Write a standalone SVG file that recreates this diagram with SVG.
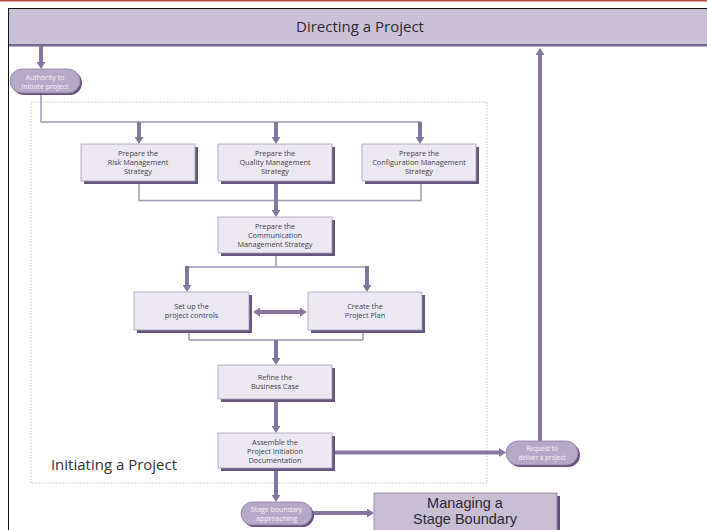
<svg xmlns="http://www.w3.org/2000/svg" width="707" height="530" viewBox="0 0 707 530">
<style>
text{font-family:"Open Sans","DejaVu Sans",sans-serif;text-anchor:middle}
.bt{font-size:7.3px;fill:#45414b}
.pt{font-size:7px;fill:#f6f3f9}
.box{fill:#ece8f1;stroke:#a99cba;stroke-width:0.8}
.sh{fill:#66567e}
.pill{fill:#b6a9c8;stroke:#8e7fa6;stroke-width:0.8}
.thick{stroke:#8576a0;stroke-width:4;fill:none}
.thin{stroke:#a396b5;stroke-width:1.5;fill:none}
</style>
<defs>
<marker id="ah" viewBox="0 0 7 9" markerWidth="7" markerHeight="9" refX="2" refY="4.5" markerUnits="userSpaceOnUse" orient="auto-start-reverse">
<path d="M0,0 L7,4.5 L0,9 z" fill="#8576a0"/>
</marker>
</defs>
<rect x="0" y="0" width="707" height="530" fill="#ffffff"/>
<rect x="0" y="0" width="707" height="1.5" fill="#b8473f"/>
<line x1="8" y1="8.5" x2="707" y2="8.5" stroke="#111" stroke-width="1"/>
<line x1="8.5" y1="8" x2="8.5" y2="530" stroke="#111" stroke-width="1"/>

<g id="directing">
<rect x="9" y="9" width="698" height="36" fill="#cbc1d6"/>
<rect x="9" y="44" width="698" height="2.5" fill="#76678f"/>
<text x="360" y="32" style="font-size:15px;fill:#2e2a33">Directing a Project</text>
</g>

<g id="initiating-frame">
<rect x="31" y="102" width="456" height="381" fill="none" stroke="#c3c3c3" stroke-width="1" stroke-dasharray="1.5 1.5"/>
<text x="114" y="470" style="font-size:15px;fill:#333">Initiating a Project</text>
</g>

<g id="connectors">
<line class="thick" x1="41" y1="46" x2="41" y2="64" marker-end="url(#ah)"/>
<polyline class="thin" points="41,93 41,122 421,122"/>
<line class="thick" x1="139" y1="122" x2="139" y2="139" marker-end="url(#ah)"/>
<line class="thick" x1="276" y1="122" x2="276" y2="139" marker-end="url(#ah)"/>
<line class="thick" x1="420" y1="122" x2="420" y2="139" marker-end="url(#ah)"/>
<polyline class="thin" points="139,184 139,200.5 421,200.5 421,184"/>
<line class="thick" x1="276" y1="184" x2="276" y2="212" marker-end="url(#ah)"/>
<polyline class="thin" points="276,256 276,267"/>
<line class="thin" x1="187" y1="267" x2="367" y2="267"/>
<line class="thick" x1="187" y1="266" x2="187" y2="287" marker-end="url(#ah)"/>
<line class="thick" x1="367" y1="266" x2="367" y2="287" marker-end="url(#ah)"/>
<line class="thick" x1="258" y1="312" x2="302" y2="312" marker-start="url(#ah)" marker-end="url(#ah)"/>
<polyline class="thin" points="189,333 189,340 363,340 363,333"/>
<line class="thick" x1="276" y1="340" x2="276" y2="360" marker-end="url(#ah)"/>
<line class="thick" x1="276" y1="402" x2="276" y2="428" marker-end="url(#ah)"/>
<line class="thick" x1="334" y1="452.5" x2="501" y2="452.5" marker-end="url(#ah)"/>
<line class="thick" x1="540" y1="441" x2="540" y2="53" marker-end="url(#ah)"/>
<line class="thick" x1="276" y1="471" x2="276" y2="497" marker-end="url(#ah)"/>
<line class="thick" x1="312" y1="513" x2="369" y2="513" marker-end="url(#ah)"/>
</g>

<g id="authority">
<rect class="sh" x="12" y="71" width="70" height="24" rx="12"/>
<rect class="pill" x="10" y="69" width="70" height="24" rx="12"/>
<text class="pt" x="45" y="79.5">Authority to</text>
<text class="pt" x="45" y="88.5">initiate project</text>
</g>

<g id="risk">
<rect class="sh" x="84" y="147" width="114" height="37"/>
<rect class="box" x="81" y="144" width="114" height="37"/>
<text class="bt" x="138" y="156">Prepare the</text>
<text class="bt" x="138" y="165.2">Risk Management</text>
<text class="bt" x="138" y="174.4">Strategy</text>
</g>

<g id="quality">
<rect class="sh" x="221" y="147" width="114" height="37"/>
<rect class="box" x="218" y="144" width="114" height="37"/>
<text class="bt" x="275" y="156">Prepare the</text>
<text class="bt" x="275" y="165.2">Quality Management</text>
<text class="bt" x="275" y="174.4">Strategy</text>
</g>

<g id="configuration">
<rect class="sh" x="365" y="147" width="114" height="37"/>
<rect class="box" x="362" y="144" width="114" height="37"/>
<text class="bt" x="419" y="156">Prepare the</text>
<text class="bt" x="419" y="165.2">Configuration Management</text>
<text class="bt" x="419" y="174.4">Strategy</text>
</g>

<g id="communication">
<rect class="sh" x="221" y="220" width="114" height="36"/>
<rect class="box" x="218" y="217" width="114" height="36"/>
<text class="bt" x="275" y="228.5">Prepare the</text>
<text class="bt" x="275" y="237.7">Communication</text>
<text class="bt" x="275" y="246.9">Management Strategy</text>
</g>

<g id="setup">
<rect class="sh" x="137" y="295" width="115" height="38"/>
<rect class="box" x="134" y="292" width="115" height="38"/>
<text class="bt" x="191.5" y="309">Set up the</text>
<text class="bt" x="191.5" y="318.2">project controls</text>
</g>

<g id="create">
<rect class="sh" x="311" y="295" width="114" height="38"/>
<rect class="box" x="308" y="292" width="114" height="38"/>
<text class="bt" x="365" y="309">Create the</text>
<text class="bt" x="365" y="318.2">Project Plan</text>
</g>

<g id="refine">
<rect class="sh" x="221" y="368" width="114" height="34"/>
<rect class="box" x="218" y="365" width="114" height="34"/>
<text class="bt" x="275" y="380">Refine the</text>
<text class="bt" x="275" y="389.2">Business Case</text>
</g>

<g id="assemble">
<rect class="sh" x="221" y="436" width="114" height="35"/>
<rect class="box" x="218" y="433" width="114" height="35"/>
<text class="bt" x="275" y="444.5">Assemble the</text>
<text class="bt" x="275" y="453.7">Project Initiation</text>
<text class="bt" x="275" y="462.9">Documentation</text>
</g>

<g id="request">
<rect class="sh" x="508" y="443" width="72" height="24" rx="12"/>
<rect class="pill" x="506" y="441" width="72" height="24" rx="12"/>
<text class="pt" x="542" y="451" style="font-size:6.3px">Request to</text>
<text class="pt" x="542" y="460" style="font-size:6.3px">deliver a project</text>
</g>

<g id="stage-approaching">
<rect class="sh" x="243" y="504" width="71" height="23" rx="11.5"/>
<rect class="pill" x="241" y="502" width="71" height="23" rx="11.5"/>
<text class="pt" x="276.5" y="511.5">Stage boundary</text>
<text class="pt" x="276.5" y="520.5">approaching</text>
</g>

<g id="managing">
<rect x="377" y="496" width="183" height="40" fill="#5f4f77"/>
<rect x="374" y="493" width="183" height="40" fill="#c9bfd5" stroke="#8e7fa6" stroke-width="0.8"/>
<text x="465" y="507.5" style="font-family:'Liberation Sans',Arial,sans-serif;font-size:14.5px;fill:#2e2a33">Managing a</text>
<text x="465" y="524" style="font-family:'Liberation Sans',Arial,sans-serif;font-size:14.5px;fill:#2e2a33">Stage Boundary</text>
</g>
</svg>
